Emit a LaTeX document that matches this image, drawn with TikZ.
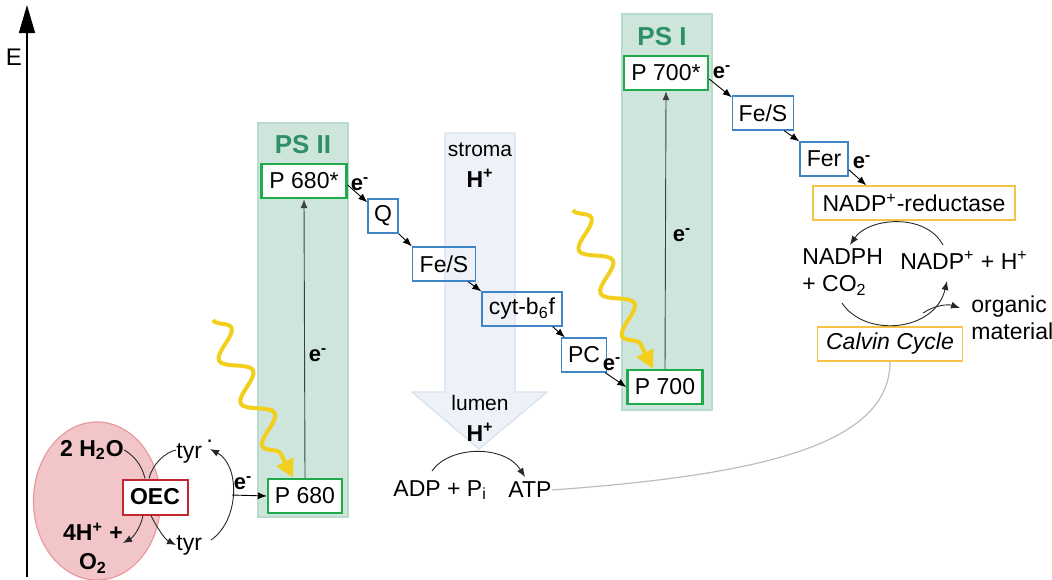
\documentclass[tikz,border=0pt]{standalone}
\usepackage{fontspec}
\setmainfont{Liberation Sans}
\usetikzlibrary{arrows.meta,decorations.pathmorphing}

\definecolor{bandgreen}{HTML}{CDE5DA}
\definecolor{bandedge}{HTML}{B9DBCB}
\definecolor{psgreen}{HTML}{2E9066}
\definecolor{boxgreen}{HTML}{1FAA4C}
\definecolor{boxblue}{HTML}{3F86C8}
\definecolor{boxorange}{HTML}{F6C445}
\definecolor{flowfill}{HTML}{EEF2F8}
\definecolor{flowedge}{HTML}{D3E2F1}
\definecolor{lightyellow}{HTML}{F2CF1D}
\definecolor{oecfill}{HTML}{F2C6C8}
\definecolor{oecedge}{HTML}{E79A9E}
\definecolor{oecred}{HTML}{C1272D}
\definecolor{linkgray}{HTML}{BDBDBD}

\tikzset{
  txt/.style={font=\fontsize{11.5}{13.5}\selectfont, inner sep=0pt},
  thin txt/.style={font=\fontsize{10.5}{12}\selectfont, inner sep=0pt},
  bold txt/.style={font=\fontsize{11.5}{14.5}\selectfont\bfseries, inner sep=0pt},
  elab/.style={font=\fontsize{11}{13}\selectfont\bfseries, inner sep=0pt},
  carrier/.style={draw=boxblue, line width=0.7pt, minimum height=17pt, inner sep=0pt,
    font=\fontsize{11.5}{13.5}\selectfont},
  pigment/.style={draw=boxgreen, line width=1.2pt, fill=white, minimum height=17pt, inner sep=0pt,
    font=\fontsize{11.5}{13.5}\selectfont},
  enzyme/.style={draw=boxorange, line width=0.7pt, fill=white, minimum height=17pt, inner sep=0pt,
    font=\fontsize{11.5}{13.5}\selectfont},
  eflow/.style={-{Latex[length=4.5pt,width=3.5pt]}, line width=0.45pt},
  arc/.style={line width=0.45pt, black!85},
  band/.style={fill=bandgreen, draw=bandedge, line width=0.6pt},
  photon/.style={draw=lightyellow, line width=2pt, decorate,
    decoration={snake, amplitude=6.5pt, segment length=24pt, post length=9pt},
    -{Triangle[length=9pt,width=9pt]}},
}

\begin{document}
\begin{tikzpicture}[x=0.5pt,y=-0.5pt]
  \useasboundingbox (0,0) rectangle (1052,579);

  % energy axis
  \draw[line width=0.7pt,-{Triangle[length=14pt,width=8pt]}] (27,577)--(27,5);
  \node[font=\fontsize{12}{14}\selectfont, inner sep=0pt] (energy) at (14,57) {E};

  % photosystem bands and proton flow
  \draw[band] (258,123) rectangle (348,517);
  \draw[band] (622,14) rectangle (712,410);
  \node[font=\fontsize{13}{15}\selectfont\bfseries, text=psgreen] (ps2) at (303,145) {PS II};
  \node[font=\fontsize{13}{15}\selectfont\bfseries, text=psgreen] (ps1) at (662,37) {PS I};
  \draw[fill=flowfill, draw=flowedge, line width=0.6pt]
    (445,133)--(515,133)--(515,392)--(547,392)--(479,449)--(412,392)--(445,392)--cycle;
  \node[thin txt] (stroma) at (480,150) {stroma};
  \node[bold txt] (hstroma) at (480,178) {H\textsuperscript{+}};
  \node[thin txt] (lumen) at (480,403) {lumen};
  \node[bold txt] (hlumen) at (480,432) {H\textsuperscript{+}};

  % water splitting
  \draw[fill=oecfill, draw=oecedge, line width=0.6pt] (97,501) ellipse [x radius=31.75pt, y radius=39.5pt];
  \node[draw=oecred, line width=1pt, fill=white, minimum width=32.5pt, minimum height=17.5pt,
    inner sep=0pt, font=\fontsize{11.5}{13.5}\selectfont\bfseries] (oec) at (155,497) {OEC};
  \node[bold txt] (water) at (92,450) {2 H\textsubscript{2}O};
  \node[bold txt, align=center] (oxygen) at (93,548) {4H\textsuperscript{+} +\\O\textsubscript{2}};
  \node[txt, anchor=west] (tyrox) at (176,452) {tyr\raisebox{0.9ex}{\,·}};
  \node[txt, anchor=west] (tyr) at (176,545) {tyr};

  % electron carriers
  \node[pigment, minimum width=37pt] (p680) at (305,496) {P 680};
  \node[pigment, minimum width=42.5pt] (p680s) at (304,181) {P 680*};
  \node[carrier, minimum width=15pt] (q) at (383,216) {Q};
  \node[carrier, minimum width=31.5pt] (fes1) at (444,264) {Fe/S};
  \node[carrier, minimum width=40pt] (cyt) at (522,309) {cyt-b\textsubscript{6}f};
  \node[carrier, minimum width=22.5pt] (pc) at (584,355) {PC};
  \node[pigment, minimum width=37.5pt] (p700) at (665,387) {P 700};
  \node[pigment, minimum width=42pt] (p700s) at (666,73) {P 700*};
  \node[carrier, minimum width=30.5pt] (fes2) at (763,113) {Fe/S};
  \node[carrier, minimum width=24pt] (fer) at (824,159) {Fer};
  \node[enzyme, minimum width=101pt] (nadp) at (914,203) {NADP\textsuperscript{+}-reductase};
  \node[enzyme, minimum width=72.5pt, font=\fontsize{11.5}{13.5}\selectfont\itshape] (calvin) at (890,344) {Calvin Cycle};

  % products
  \node[txt, anchor=west] (adp) at (393,490) {ADP + P\textsubscript{i}};
  \node[txt, anchor=west] (atp) at (508,490) {ATP};
  \node[txt, anchor=west, align=left] (nadph) at (802,272) {NADPH\\+ CO\textsubscript{2}};
  \node[txt] (nadpplus) at (964,260) {NADP\textsuperscript{+} + H\textsuperscript{+}};
  \node[txt, anchor=west, align=left] (organic) at (971,318) {organic\\material};

  % electron labels
  \node[elab] (e1) at (243,483) {e\textsuperscript{-}};
  \node[elab] (e2) at (318,355) {e\textsuperscript{-}};
  \node[elab] (e3) at (360,184) {e\textsuperscript{-}};
  \node[elab] (e4) at (612,364) {e\textsuperscript{-}};
  \node[elab] (e5) at (682,235) {e\textsuperscript{-}};
  \node[elab] (e6) at (722,72) {e\textsuperscript{-}};
  \node[elab] (e7) at (862,162) {e\textsuperscript{-}};

  % light
  \coordinate (light2) at (213,320);
  \coordinate (light1) at (573,210);
  \draw[photon] (light2)--([xshift=-6pt]p680.north);
  \draw[photon] (light1)--([xshift=-6pt]p700.north);

  % electron transport
  \draw[eflow, black!75] (p680.north)--(p680s.south);
  \draw[eflow, black!75] (p700.north)--(p700s.south);
  \draw[eflow] ([yshift=-2pt]p680s.east)--([yshift=-2pt]q.north west);
  \draw[eflow] (q.south east)--(fes1.north west);
  \draw[eflow] ([xshift=-4pt]fes1.south east)--(cyt.north west);
  \draw[eflow] ([xshift=-5pt]cyt.south east)--([xshift=2pt]pc.north west);
  \draw[eflow] ([xshift=-1pt]pc.south east)--(p700.west);
  \draw[eflow] ([yshift=-3pt]p700s.east)--([yshift=-1pt]fes2.north west);
  \draw[eflow] ([xshift=-5pt]fes2.south east)--(fer.north west);
  \draw[eflow] ([yshift=3.5pt]fer.south east)--([xshift=27pt]nadp.north west);

  % water splitting reactions
  \coordinate (split) at (232,495);
  \draw[arc] (water.east) .. controls (138,458) and (143,470) .. ([xshift=-5pt]oec.north);
  \draw[arc] ([xshift=-3pt]oec.north) .. controls (152,465) and (165,452) .. ([yshift=1pt]tyrox.west);
  \draw[arc, eflow] ([xshift=-6pt]oec.south) .. controls (140,530) and (132,538) .. (123,543);
  \draw[arc, eflow] ([xshift=-2pt]oec.south) .. controls (158,530) and (166,540) .. (tyr.west);
  \draw[arc, eflow] (211,540) .. controls (240,520) and (240,465) .. (210,449);
  \draw[eflow] (split)--(p680.west);

  % ATP synthesis
  \draw[arc, eflow] (432,471) .. controls (450,445) and (505,445) .. (525,477);

  % NADPH cycle
  \draw[arc, eflow] (943,245) .. controls (925,212) and (868,218) .. (850,245);
  \draw[arc, eflow] (842,303) .. controls (865,338) and (935,332) .. (947,281);
  \draw[arc, eflow] (923,313) .. controls (935,305) and (948,304) .. (960,308);

  % link to Calvin cycle
  \draw[linkgray, line width=0.6pt] (calvin.south) .. controls (890,445) and (760,475) .. (atp.east);
\end{tikzpicture}
\end{document}
